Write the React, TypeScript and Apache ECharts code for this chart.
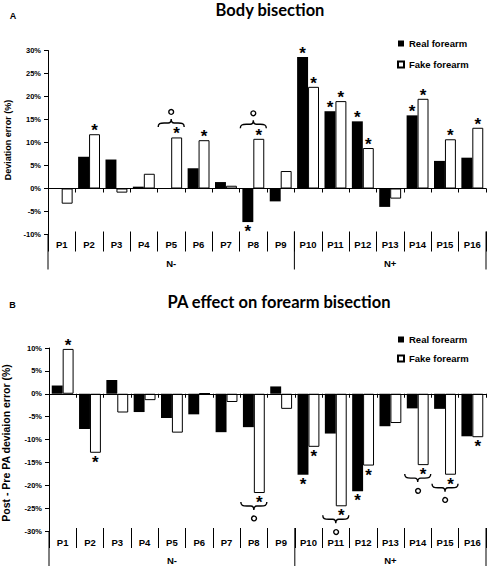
import React, { useEffect, useRef } from "react";
import * as echarts from "echarts";

// ---------- data ----------
const categories = ["P1", "P2", "P3", "P4", "P5", "P6", "P7", "P8", "P9", "P10", "P11", "P12", "P13", "P14", "P15", "P16"];
const groupLabels = ["N-", "N+"];
const groupSizes = [9, 7];
const seriesNames = ["Real forearm", "Fake forearm"];

// Panel A: Body bisection (deviation error, %)
const bodyReal = [0.1, 6.9, 6.3, 0.4, -0.1, 4.4, 1.4, -7.3, -2.8, 28.6, 16.8, 14.6, -4.0, 15.9, 6.0, 6.7];
const bodyFake = [-3.3, 11.8, -0.9, 3.2, 11.1, 10.5, 0.6, 10.8, 3.8, 22.1, 19.0, 8.8, -2.2, 19.5, 10.7, 13.2];
const bodyRealSig = [0, 0, 0, 0, 0, 0, 0, 1, 0, 1, 1, 1, 0, 1, 0, 0];
const bodyFakeSig = [0, 1, 0, 0, 1, 1, 0, 1, 0, 1, 1, 1, 0, 1, 1, 1];
const bodyBraces = [4, 7];
const bodyAxis = { min: -10, max: 30, step: 5 };

// Panel B: PA effect on forearm bisection (post - pre, %)
const paReal = [1.8, -7.7, 3.0, -4.0, -5.3, -4.5, -8.4, -7.3, 1.6, -17.7, -8.7, -21.3, -7.1, -3.2, -3.3, -9.3];
const paFake = [9.8, -12.9, -4.1, -1.4, -8.5, 0.1, -1.8, -21.7, -3.3, -11.6, -24.6, -15.7, -6.4, -15.6, -17.7, -9.5];
const paRealSig = [0, 0, 0, 0, 0, 0, 0, 0, 0, 1, 0, 1, 0, 0, 0, 0];
const paFakeSig = [1, 1, 0, 0, 0, 0, 0, 1, 0, 1, 1, 1, 0, 1, 1, 1];
const paBraces = [7, 10, 13, 14];
const paAxis = { min: -30, max: 10, step: 5 };

// ---------- styling ----------
const FONT = "'Liberation Sans', Arial, sans-serif";
const TITLE_FONT = "Lato, Calibri, sans-serif";
const BRACE_D = "M0,8 C0,4.5 2,4 6,4 L10,4 C12,4 13,3 13,0 C13,3 14,4 16,4 L20,4 C24,4 26,4.5 26,8";

let braceRegistered = false;
function ensureBrace() {
  if (!braceRegistered) {
    echarts.graphic.registerShape("brace", echarts.graphic.extendPath(BRACE_D, {}) as any);
    braceRegistered = true;
  }
}

function zeroAxis(gridIndex: number) {
  return {
    gridIndex,
    type: "category",
    data: categories,
    z: 10,
    axisLine: { onZero: true, lineStyle: { color: "#000", width: 1 } },
    axisTick: { show: true, interval: 0, length: 4, lineStyle: { color: "#000" } },
    axisLabel: { show: false },
  };
}

function tableAxis(gridIndex: number, margin: number) {
  return {
    gridIndex,
    type: "category",
    data: categories,
    position: "bottom",
    offset: -3,
    axisLine: { show: false, onZero: false },
    axisTick: { show: true, interval: 0, length: 20, lineStyle: { color: "#000", width: 1 } },
    axisLabel: { show: true, interval: 0, margin, fontSize: 9.5, fontWeight: "bold", color: "#000", fontFamily: FONT },
  };
}

function valueAxis(gridIndex: number, ax: { min: number; max: number; step: number }) {
  return {
    gridIndex,
    type: "value",
    min: ax.min,
    max: ax.max,
    interval: ax.step,
    axisLine: { show: true, lineStyle: { color: "#000", width: 1 } },
    axisTick: { show: true, length: 4, lineStyle: { color: "#000" } },
    splitLine: { show: false },
    axisLabel: { formatter: "{value}%", fontSize: 7.5, fontWeight: "bold", color: "#000", margin: 7, fontFamily: FONT },
  };
}

function barSeries(name: string, values: number[], sig: number[], xi: number, yi: number, fill: string) {
  return {
    type: "bar",
    name,
    xAxisIndex: xi,
    yAxisIndex: yi,
    barGap: "0%",
    barCategoryGap: "20%",
    itemStyle: { color: fill, borderColor: "#000", borderWidth: fill === "#fff" ? 1 : 0 },
    label: { formatter: "*", fontSize: 17, fontWeight: "bold", color: "#000", fontFamily: FONT },
    data: values.map((v, i) => ({
      value: v,
      label: {
        show: !!sig[i],
        position: v < 0 ? "bottom" : "top",
        distance: v < 0 ? 1 : 0,
        offset: v < 0 ? [0, 0] : [0, 5],
      },
    })),
  };
}

function legendAt(top: number, gap: number) {
  return {
    data: seriesNames,
    orient: "vertical",
    left: 397,
    top,
    itemWidth: 6,
    itemHeight: 6,
    itemGap: gap,
    icon: "rect",
    selectedMode: false,
    padding: 0,
    textStyle: { fontSize: 9.5, fontWeight: "bold", fontFamily: FONT, color: "#000", lineHeight: 12 },
  };
}

function buildOption() {
  return {
    animation: false,
    backgroundColor: "#fff",
    grid: [
      { left: 48, top: 50.5, width: 438, height: 184, containLabel: false, outerBoundsMode: "none" },
      { left: 49, top: 348, width: 437, height: 183, containLabel: false, outerBoundsMode: "none" },
    ],
    xAxis: [zeroAxis(0), tableAxis(0, 7.5), zeroAxis(1), tableAxis(1, 9.5)],
    yAxis: [valueAxis(0, bodyAxis), valueAxis(1, paAxis)],
    legend: [legendAt(37.5, 9), legendAt(333.5, 7)],
    series: [
      barSeries(seriesNames[0], bodyReal, bodyRealSig, 0, 0, "#000"),
      barSeries(seriesNames[1], bodyFake, bodyFakeSig, 0, 0, "#fff"),
      barSeries(seriesNames[0], paReal, paRealSig, 2, 1, "#000"),
      barSeries(seriesNames[1], paFake, paFakeSig, 2, 1, "#fff"),
    ],
  };
}

function txt(x: number, y: number, text: string, size: number, family = FONT, extra: any = {}) {
  return {
    type: "text",
    x,
    y,
    ...extra,
    style: {
      text,
      fontSize: size,
      fontWeight: "bold",
      fontFamily: family,
      fill: "#000",
      textAlign: "center",
      textVerticalAlign: "middle",
    },
  };
}

type Panel = { xi: number; yi: number; real: number[]; fake: number[]; braces: number[]; up: boolean; yMin: number };

function panelGraphics(chart: any, p: Panel): any[] {
  const out: any[] = [];
  const xc = (i: number) => chart.convertToPixel({ xAxisIndex: p.xi }, categories[i]) as number;
  const yp = (v: number) => chart.convertToPixel({ yAxisIndex: p.yi }, v) as number;
  const bw = xc(1) - xc(0);
  const bottom = yp(p.yMin);
  const tableTop = bottom - 3;
  const lineEnd = bottom + 35;
  const nY = bottom + 29;
  const bounds: number[] = [xc(0) - bw / 2];
  let start = 0;
  groupSizes.forEach((n, gi) => {
    const x0 = xc(start) - bw / 2;
    const x1 = xc(start + n - 1) + bw / 2;
    out.push(txt((x0 + x1) / 2, nY, groupLabels[gi], 9.5));
    bounds.push(x1);
    start += n;
  });
  bounds.forEach((bx, k) => {
    out.push({
      type: "line",
      shape: { x1: bx, y1: k === 0 ? bottom : tableTop, x2: bx, y2: lineEnd },
      style: { stroke: "#000", lineWidth: 1 },
    });
  });
  p.braces.forEach((i) => {
    const cx = xc(i);
    if (p.up) {
      const top = Math.min(yp(p.real[i]), yp(p.fake[i]));
      out.push({ type: "brace", x: cx - 13, y: top - 18.5, style: { stroke: "#000", fill: "none", lineWidth: 1.4 } });
      out.push({ type: "circle", shape: { cx, cy: top - 25.5, r: 2.4 }, style: { fill: "#fff", stroke: "#000", lineWidth: 1.4 } });
    } else {
      const bot = Math.max(yp(p.real[i]), yp(p.fake[i]));
      out.push({ type: "brace", x: cx - 13, y: bot + 17, scaleY: -1, style: { stroke: "#000", fill: "none", lineWidth: 1.4 } });
      out.push({ type: "circle", shape: { cx, cy: bot + 24.5, r: 2.4 }, style: { fill: "#fff", stroke: "#000", lineWidth: 1.4 } });
    }
  });
  return out;
}

function buildGraphics(chart: any) {
  const g: any[] = [];
  g.push(txt(13, 15.5, "A", 9));
  g.push(txt(12.5, 305, "B", 9));
  g.push(txt(270, 9.5, "Body bisection", 16.5, TITLE_FONT));
  g.push(txt(279, 302, "PA effect on forearm bisection", 16.5, TITLE_FONT));
  g.push(txt(8, 140, "Deviation error (%)", 9, FONT, { rotation: Math.PI / 2 }));
  g.push(txt(6, 443, "Post - Pre PA deviaion error (%)", 10.5, FONT, { rotation: Math.PI / 2 }));
  g.push(...panelGraphics(chart, { xi: 0, yi: 0, real: bodyReal, fake: bodyFake, braces: bodyBraces, up: true, yMin: bodyAxis.min }));
  g.push(...panelGraphics(chart, { xi: 2, yi: 1, real: paReal, fake: paFake, braces: paBraces, up: false, yMin: paAxis.min }));
  return g;
}

export default function App() {
  const ref = useRef<HTMLDivElement>(null);
  useEffect(() => {
    ensureBrace();
    const chart = echarts.init(ref.current as HTMLDivElement, null, { renderer: "svg" });
    chart.setOption(buildOption() as any);
    chart.setOption({ graphic: buildGraphics(chart) } as any);
    return () => chart.dispose();
  }, []);
  return (
    <div
      ref={ref}
      style={{ position: "fixed", left: 0, top: 0, width: 491, height: 570, background: "#fff" }}
    />
  );
}
